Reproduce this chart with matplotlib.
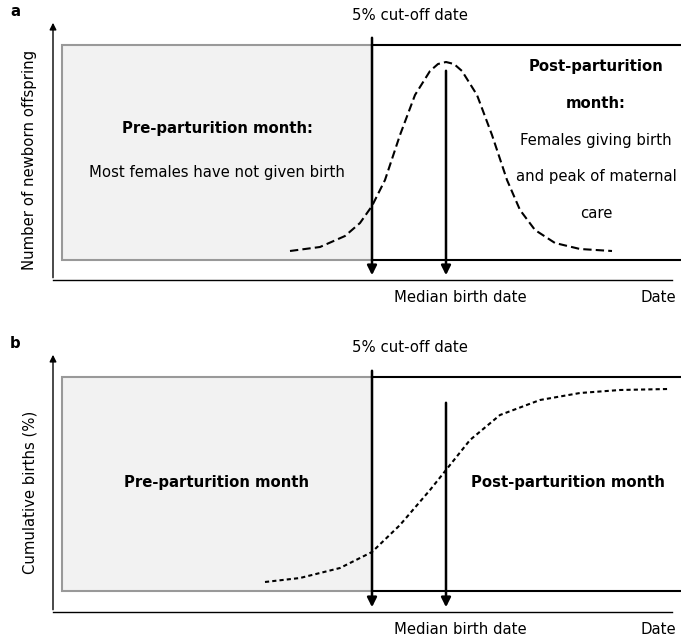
import matplotlib
matplotlib.use("Agg")
from matplotlib import pyplot as plt
from matplotlib.patches import Rectangle

# schematic curves (pixel coordinates)
bell_x = [290, 320, 345, 360, 372, 385, 400, 415, 430, 438, 446, 454, 462, 477, 492, 507, 520, 535, 555, 580, 612]
bell_y = [251, 247, 236, 223, 206, 180, 135, 95, 71, 64, 62, 64, 71, 95, 135, 180, 210, 230, 243, 249, 251]
cum_x = [265, 300, 340, 372, 400, 430, 446, 470, 500, 540, 580, 620, 668]
cum_y = [582, 578, 568, 552, 525, 490, 470, 440, 415, 400, 393, 390, 389]

FS = 10.7

fig = plt.figure(figsize=(6.81, 6.41), dpi=100)
ax = fig.add_axes([0, 0, 1, 1])
ax.set_xlim(0, 681)
ax.set_ylim(641, 0)
ax.axis("off")

arrow = dict(arrowstyle="-|>", color="black", lw=1.0, mutation_scale=10)
arrow2 = dict(arrowstyle="-|>", color="black", lw=1.8, mutation_scale=14)


def panel(top, bottom, axis_top, axis_y, med_top, cut_top, label, ylabel):
    ax.annotate("", xy=(53, axis_top), xytext=(53, axis_y + 0.5), arrowprops=arrow)
    ax.plot([53, 672], [axis_y, axis_y], color="black", lw=1.0)
    ax.add_patch(Rectangle((62, top), 310, bottom - top, facecolor="#f2f2f2",
                           edgecolor="#999999", lw=1.5))
    ax.plot([372, 681], [top, top], color="black", lw=1.5)
    ax.plot([372, 681], [bottom, bottom], color="black", lw=1.5)
    ax.annotate("", xy=(372, axis_y - 2), xytext=(372, cut_top), arrowprops=arrow2)
    ax.annotate("", xy=(446, axis_y - 2), xytext=(446, med_top), arrowprops=arrow2)
    ax.text(15, axis_top - 8, label, fontsize=FS, fontweight="bold", ha="center", va="center")
    ax.text(30, (axis_top + axis_y) / 2 + 10, ylabel, fontsize=FS, rotation=90,
            ha="center", va="center")
    ax.text(410, axis_top - 5, "5% cut-off date", fontsize=FS, ha="center", va="center")
    ax.text(460, axis_y + 17, "Median birth date", fontsize=FS, ha="center", va="center")
    ax.text(658, axis_y + 17, "Date", fontsize=FS, ha="center", va="center")


panel(45, 260, 20, 280, 68, 35, "a", "Number of newborn offspring")
ax.plot(bell_x, bell_y, color="black", lw=1.5, ls=(0, (4, 2)))
ax.text(217, 128, "Pre-parturition month:", fontsize=FS, fontweight="bold", ha="center", va="center")
ax.text(217, 173, "Most females have not given birth", fontsize=FS, ha="center", va="center")
right_a = [("Post-parturition", "bold"), ("month:", "bold"), ("Females giving birth", "normal"),
           ("and peak of maternal", "normal"), ("care", "normal")]
for i, (t, w) in enumerate(right_a):
    ax.text(596, 66 + 37 * i, t, fontsize=FS, fontweight=w, ha="center", va="center")

panel(377, 591, 352, 612, 400, 368, "b", "Cumulative births (%)")
ax.plot(cum_x, cum_y, color="black", lw=1.5, ls=(0, (2, 1.5)))
ax.text(217, 482, "Pre-parturition month", fontsize=FS, fontweight="bold", ha="center", va="center")
ax.text(568, 482, "Post-parturition month", fontsize=FS, fontweight="bold", ha="center", va="center")

fig.savefig("out.png", dpi=100)
